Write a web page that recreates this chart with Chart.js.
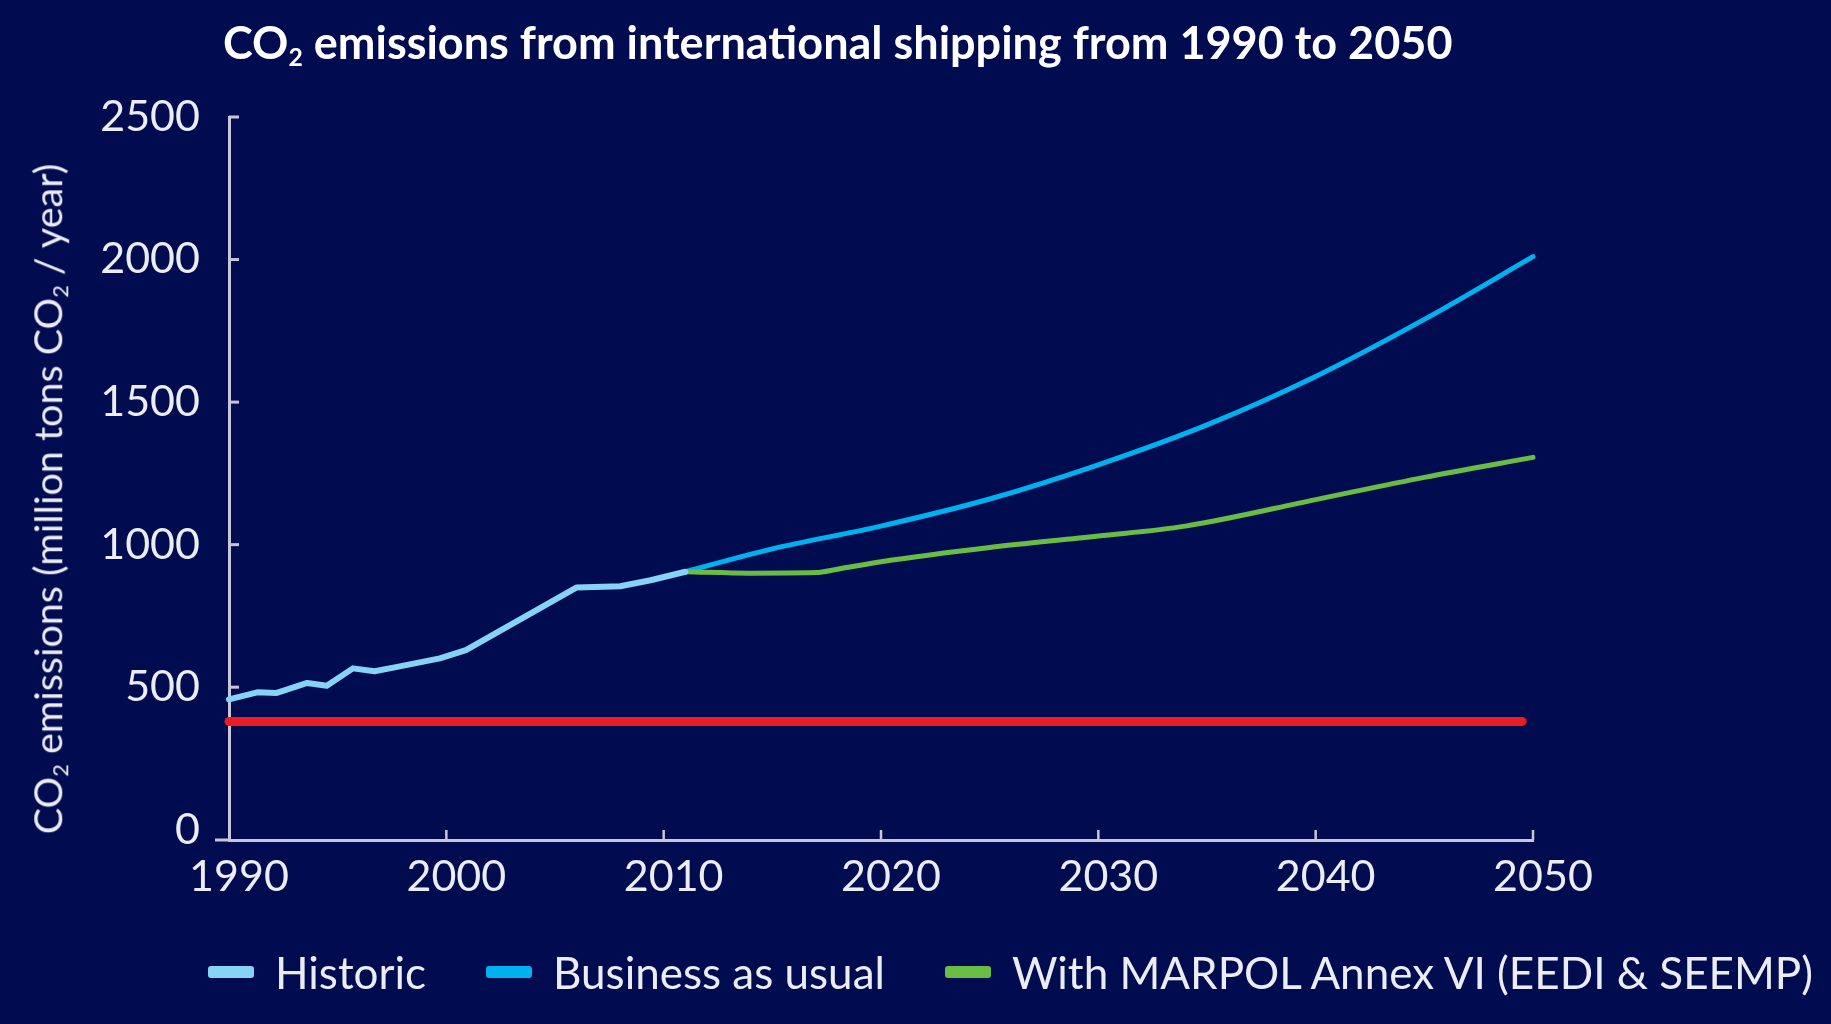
<!DOCTYPE html>
<html>
<head>
<meta charset="utf-8">
<script src="https://cdn.jsdelivr.net/npm/chart.js@4.4.1/dist/chart.umd.min.js"></script>
<style>
  html, body { margin: 0; padding: 0; background: #000c4f; }
  #wrap { position: relative; width: 1831px; height: 1024px; background: #000c4f; overflow: hidden; }
  #c { position: absolute; left: 0; top: 0; }
  #title {
    position: absolute; left: 223px; top: 20px;
    font-family: Lato, "Open Sans", sans-serif; font-weight: 700; font-size: 45px; line-height: 1;
    color: #ffffff; white-space: nowrap;
  }
  .sub { font-size: 0.55em; position: relative; top: 0.28em; }
  #ytitle {
    position: absolute; left: 47px; top: 499px;
    transform: translate(-50%, -50%) rotate(-90deg);
    font-family: Lato, "Open Sans", sans-serif; font-size: 39.5px; line-height: 1;
    color: #ececf4; white-space: nowrap;
  }
  #legend {
    position: absolute; left: 208px; top: 946px; height: 51px;
    display: flex; align-items: center; gap: 60px;
    font-family: Lato, "Open Sans", sans-serif; font-size: 44px; color: #ececf4; white-space: nowrap;
  }
  .item { display: flex; align-items: center; gap: 21px; }
  .swatch { width: 46px; height: 12px; border-radius: 3px; }
</style>
</head>
<body>
<div id="wrap">
  <canvas id="c" width="1831" height="1024"></canvas>
  <div id="title">CO<span class="sub">2</span> emissions from international shipping from 1990 to 2050</div>
  <div id="ytitle">CO<span class="sub">2</span> emissions (million tons CO<span class="sub">2</span> / year)</div>
  <div id="legend"></div>
</div>
<script>
// Historic emissions (million tons CO2 / year)
const historicYears = [1990, 1991.3, 1992.2, 1993.6, 1994.5, 1995.7, 1996.7, 1997.8, 1999.7, 2000.9, 2006, 2008, 2009.4, 2011];
const historicValues = [457, 482, 480, 515, 505, 566, 556, 572, 601, 630, 850, 854, 875, 905];

// Business-as-usual projection
const bauYears = [2011, 2015, 2020, 2025, 2030, 2035, 2040, 2045, 2050];
const bauValues = [905, 985, 1065, 1160, 1280, 1420, 1590, 1790, 2010];

// Projection with MARPOL Annex VI measures
const marpolYears = [2011, 2014, 2017, 2018, 2020, 2025, 2030, 2034, 2040, 2045, 2050];
const marpolValues = [905, 900, 902, 914, 940, 990, 1030, 1065, 1158, 1236, 1306];

// Horizontal reference level
const targetYears = [1990, 2049.5];
const targetValues = [380, 380];

const xTicks = [1990, 2000, 2010, 2020, 2030, 2040, 2050];
const yTicks = [0, 500, 1000, 1500, 2000, 2500];

const seriesLabels = ['Historic', 'Business as usual', 'With MARPOL Annex VI (EEDI & SEEMP)'];

const AXIS = '#c6c7d8';
const TEXT = '#ececf4';

const pts = (xs, ys) => xs.map((x, i) => ({ x, y: ys[i] }));

// Inward tick marks and the short stub of the x axis left of the y axis
const axisMarks = {
  id: 'axisMarks',
  beforeDatasetsDraw(chart) {
    const { ctx, chartArea, scales } = chart;
    const xs = scales.x, ys = scales.y;
    ctx.save();
    ctx.strokeStyle = AXIS;
    ctx.lineCap = 'butt';
    ctx.lineWidth = 3;
    ctx.beginPath();
    ctx.moveTo(chartArea.left - 14, chartArea.bottom);
    ctx.lineTo(chartArea.left, chartArea.bottom);
    ctx.stroke();
    ys.ticks.forEach(t => {
      if (t.value <= 0) return;
      const py = ys.getPixelForValue(t.value);
      ctx.beginPath();
      ctx.moveTo(chartArea.left, py);
      ctx.lineTo(chartArea.left + 10, py);
      ctx.stroke();
    });
    ctx.lineWidth = 2.5;
    xs.ticks.forEach(t => {
      if (t.value <= xTicks[0]) return;
      const px = xs.getPixelForValue(t.value);
      ctx.beginPath();
      ctx.moveTo(px, chartArea.bottom);
      ctx.lineTo(px, chartArea.bottom - 10);
      ctx.stroke();
    });
    ctx.restore();
  }
};

const chart = new Chart(document.getElementById('c'), {
  type: 'line',
  data: {
    datasets: [
      {
        label: seriesLabels[0], data: pts(historicYears, historicValues),
        borderColor: '#86d4f5', backgroundColor: '#86d4f5', borderWidth: 6,
        tension: 0, order: 0
      },
      {
        label: seriesLabels[1], data: pts(bauYears, bauValues),
        borderColor: '#00b0ef', backgroundColor: '#00b0ef', borderWidth: 5,
        cubicInterpolationMode: 'monotone', order: 2
      },
      {
        label: seriesLabels[2], data: pts(marpolYears, marpolValues),
        borderColor: '#69bd45', backgroundColor: '#69bd45', borderWidth: 5,
        cubicInterpolationMode: 'monotone', order: 1
      },
      {
        label: 'target', data: pts(targetYears, targetValues),
        borderColor: '#ec1c24', backgroundColor: '#ec1c24', borderWidth: 9,
        order: 3, inLegend: false
      }
    ]
  },
  options: {
    responsive: false,
    animation: false,
    devicePixelRatio: 1,
    layout: { padding: { top: 117, right: 298, left: 0, bottom: 0 } },
    elements: {
      point: { radius: 0, hoverRadius: 0 },
      line: { borderCapStyle: 'round', borderJoinStyle: 'round', fill: false }
    },
    datasets: { line: { clip: false } },
    plugins: { legend: { display: false }, title: { display: false }, tooltip: { enabled: false } },
    scales: {
      x: {
        type: 'linear', min: xTicks[0], max: xTicks[xTicks.length - 1],
        afterBuildTicks: s => { s.ticks = xTicks.map(v => ({ value: v })); },
        afterFit: s => { s.height = 184; },
        grid: { display: false, drawTicks: false },
        border: { display: true, color: AXIS, width: 3 },
        ticks: {
          color: TEXT, padding: 11, labelOffset: 10, maxRotation: 0,
          font: { family: 'Lato, "Open Sans", sans-serif', size: 43 },
          callback: v => String(v)
        }
      },
      y: {
        type: 'linear', min: -36, max: yTicks[yTicks.length - 1],
        afterBuildTicks: s => { s.ticks = yTicks.map(v => ({ value: v })); },
        afterFit: s => { s.width = 229; },
        grid: { display: false, drawTicks: false },
        border: { display: true, color: AXIS, width: 3 },
        ticks: {
          color: TEXT, padding: 29,
          font: { family: 'Lato, "Open Sans", sans-serif', size: 43 },
          callback: v => String(v)
        }
      }
    }
  },
  plugins: [axisMarks]
});

// Legend built from the chart's own datasets
const legend = document.getElementById('legend');
chart.data.datasets.filter(d => d.inLegend !== false).forEach(d => {
  const item = document.createElement('div');
  item.className = 'item';
  const sw = document.createElement('div');
  sw.className = 'swatch';
  sw.style.background = d.borderColor;
  const tx = document.createElement('span');
  tx.textContent = d.label;
  item.appendChild(sw);
  item.appendChild(tx);
  legend.appendChild(item);
});
</script>
</body>
</html>
